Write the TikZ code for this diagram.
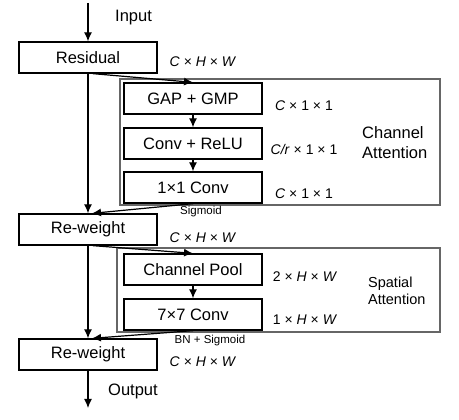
\documentclass[tikz,border=0pt]{standalone}
\usepackage{fontspec}
\setmainfont{Liberation Sans}
\usetikzlibrary{arrows.meta}

\begin{document}
\begin{tikzpicture}[x=1pt,y=-1pt,
  block/.style={draw,line width=1.3pt,minimum width=138pt,minimum height=31pt,inner sep=0pt,font=\fontsize{16.5}{19}\selectfont},
  group/.style={draw=black!60,line width=2pt},
  dim/.style={font=\fontsize{14}{16}\selectfont,inner sep=0pt},
  note/.style={font=\fontsize{11.5}{13}\selectfont,inner sep=0pt},
  flow/.style={line width=1.2pt,-{Latex[length=9pt,width=8pt]}}]
\useasboundingbox (0,0) rectangle (459,420);
% attention groups
\draw[group] (120,79) rectangle (440,205);
\draw[group] (117,248) rectangle (440,332);
% main column
\node[block] (res) at (88,57.5) {Residual};
\node[block] (rw1) at (88,229.5) {Re-weight};
\node[block] (rw2) at (88,354.5) {Re-weight};
% channel branch
\node[block,fill=white] (gap) at (193,98.5) {GAP + GMP};
\node[block,fill=white] (cr) at (193,143.5) {Conv + ReLU};
\node[block,fill=white] (c11) at (193,187.5) {1×1 Conv};
% spatial branch
\node[block,fill=white] (cp) at (193,269.5) {Channel Pool};
\node[block,fill=white] (c77) at (193,314.5) {7×7 Conv};
\coordinate (in) at (88,3);
\coordinate (out) at (88,408);
\draw[flow] (in) -- (res.north);
\draw[flow] (res.south) -- (rw1.north);
\draw[flow] ([xshift=5pt]res.south) -- (gap.north);
\draw[flow] (gap) -- (cr);
\draw[flow] (cr) -- (c11);
\draw[flow] (c11.south) -- ([xshift=4pt]rw1.north);
\draw[flow] (rw1.south) -- (rw2.north);
\draw[flow] ([xshift=5pt]rw1.south) -- (cp.north);
\draw[flow] (cp) -- (c77);
\draw[flow] (c77.south) -- ([xshift=4pt]rw2.north);
\draw[flow] (rw2.south) -- (out);
% labels
\node[anchor=west,font=\fontsize{16.5}{19}\selectfont,inner sep=0pt] (lin) at (115,18) {Input};
\node[anchor=west,font=\fontsize{16.5}{19}\selectfont,inner sep=0pt] (lout) at (108,391) {Output};
\node[dim] (d1) at (203,62) {\textit{C} × \textit{H} × \textit{W}};
\node[dim] (d2) at (304,106) {\textit{C} × 1 × 1};
\node[dim] (d3) at (304,149) {\textit{C/r} × 1 × 1};
\node[dim] (d4) at (304,194) {\textit{C} × 1 × 1};
\node[dim] (d5) at (203,238) {\textit{C} × \textit{H} × \textit{W}};
\node[dim] (d6) at (305,277) {2 × \textit{H} × \textit{W}};
\node[dim] (d7) at (305,320) {1 × \textit{H} × \textit{W}};
\node[dim] (d8) at (203,362) {\textit{C} × \textit{H} × \textit{W}};
\node[note] (sg1) at (201,212) {Sigmoid};
\node[note] (sg2) at (210,341) {BN + Sigmoid};
\node[anchor=west,align=left,inner sep=0pt,font=\fontsize{16.5}{20}\selectfont] (ca) at (362,143) {Channel\\Attention};
\node[anchor=west,align=left,inner sep=0pt,font=\fontsize{14.5}{17}\selectfont] (sa) at (368,290.5) {Spatial\\Attention};
\end{tikzpicture}
\end{document}
